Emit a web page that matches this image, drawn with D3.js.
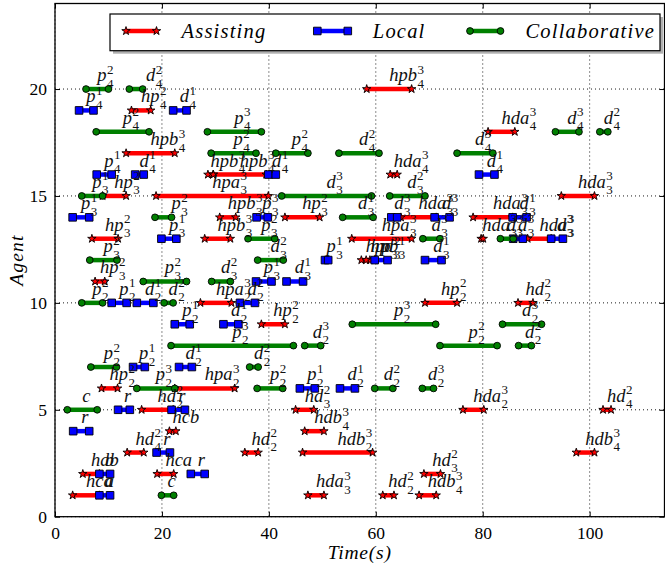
<!DOCTYPE html>
<html><head><meta charset="utf-8">
<script src="https://cdn.jsdelivr.net/npm/d3@7"></script>
<style>
body{margin:0;background:#fff;}
svg{display:block;font-family:"Liberation Serif","Times New Roman",serif;}
</style></head><body>
<svg id="c" width="665" height="570"></svg>
<script>
// ---------- data ----------
const xTicks = [0, 20, 40, 60, 80, 100];
const yTicks = [0, 5, 10, 15, 20];
const xDomain = [0, 114];
const yDomain = [0, 24];
const seriesNames = ["Assisting", "Local", "Collaborative"];
const xTitle = "Time(s)";
const yTitle = "Agent";

// [agent, start(s), end(s), label, optional label x]
const assisting = [
  [20, 58.3, 66.7, "hpb_4^3"],
  [19, 14.3, 17.9, "hp_4^2"],
  [18, 81.0, 86.0, "hda_4^3"],
  [17, 13.3, 22.4, "hpb_4^3"],
  [16, 28.6, 29.6, "hpb_4^3"], [16, 29.6, 39.5, "hpb_4^3"], [16, 62.7, 64.0, "hda_4^3"],
  [15, 8.9, 13.3, "hp_3^2"], [15, 18.9, 39.9, "hpa_3^3"], [15, 94.7, 100.9, "hda_3^3"],
  [14, 30.8, 33.8, "hpb_3^3"], [14, 43.0, 49.5, "hp_3^2"], [14, 64.7, 71.3, "hda_3^3"], [14, 78.2, 85.6, "hda_3^3"],
  [13, 6.9, 11.8, "hp_3^2"], [13, 28.0, 32.8, "hpb_3^3"], [13, 55.5, 66.7, "hpa_3^3"], [13, 79.7, 80.1, "hda_3^3"], [13, 88.4, 92.8, "hda_3^3"],
  [12, 57.3, 58.9, "hpa_3^2"], [12, 58.2, 59.8, "hpb_3^1"],
  [11, 7.5, 9.3, "hp_3^2"],
  [10, 27.2, 33.0, "hpa_2^3"], [10, 69.2, 75.2, "hp_2^2"], [10, 86.6, 89.4, "hd_2^2"],
  [9, 38.6, 43.0, "hp_2^2"],
  [6, 8.7, 11.7, "hp_2^2"], [6, 22.4, 33.6, "hpa_2^3"],
  [5, 16.2, 22.1, "hd_2^2"], [5, 45.0, 48.4, "hd_3^2"], [5, 76.3, 80.2, "hda_2^3"], [5, 102.5, 104.0, "hd_4^2"],
  [4, 21.4, 22.6, "hcb"], [4, 46.7, 50.3, "hdb_4^3"],
  [3, 13.5, 16.6, "hd_4^2"], [3, 35.5, 38.0, "hd_2^2"], [3, 46.3, 59.4, "hdb_2^3"], [3, 97.5, 100.9, "hdb_4^3"],
  [2, 5.2, 8.3, "hab"], [2, 19.1, 22.2, "hca"], [2, 69.0, 72.1, "hd_3^2"],
  [1, 3.3, 8.3, "hca"], [1, 47.3, 50.3, "hda_3^3"], [1, 61.3, 63.4, "hd_2^2"], [1, 68.1, 71.3, "hdb_4^3"]
];
const local = [
  [19, 4.5, 7.2, "p_4^1"], [19, 22.1, 24.6, "d_4^1"],
  [16, 7.8, 10.6, "p_4^1"], [16, 15.0, 16.6, "d_4^1"], [16, 39.9, 41.3, "d_4^1"], [16, 79.3, 82.2, "d_4^1"],
  [14, 3.3, 6.4, "p_3^1"], [14, 37.7, 39.8, "p_3^3"], [14, 62.9, 64.0, "d_3^3"], [14, 71.0, 73.8, "d_3^3"], [14, 85.6, 88.2, "d_3^1"],
  [13, 19.9, 22.7, "p_3^1"], [13, 85.7, 87.5, "d_3^3"], [13, 92.8, 95.0, "d_3^3"],
  [12, 50.5, 51.1, "p_3^1"], [12, 59.8, 62.2, "p_3^3"], [12, 69.2, 72.3, "d_3^1"],
  [11, 37.6, 40.5, "p_3^1"], [11, 43.3, 46.4, "d_3^1"],
  [10, 10.6, 13.4, "p_2^1"], [10, 15.3, 18.4, "d_2^1"], [10, 34.6, 37.4, "d_2^2"],
  [9, 22.4, 25.2, "p_2^1"], [9, 31.5, 34.3, "d_2^1"],
  [7, 14.6, 16.8, "p_2^1"], [7, 23.2, 25.6, "d_2^1"],
  [6, 45.8, 48.6, "p_2^1"], [6, 53.3, 56.1, "d_2^1"],
  [5, 11.8, 14.0, "r"], [5, 21.8, 24.3, "r"],
  [4, 3.4, 6.4, "r"],
  [3, 19.0, 21.5, "r"],
  [2, 8.3, 10.3, "b"], [2, 25.4, 28.0, "r"],
  [1, 8.3, 10.3, "a"]
];
const collaborative = [
  [20, 5.8, 10.0, "p_4^2"], [20, 13.9, 16.4, "d_4^2", 17.0],
  [18, 7.7, 17.6, "p_4^2"], [18, 28.5, 38.6, "p_4^3"], [18, 93.6, 98.0, "d_4^3"], [18, 101.9, 103.4, "d_4^2"],
  [17, 29.2, 37.6, "p_4^2"], [17, 41.3, 47.3, "p_4^2"], [17, 53.1, 60.6, "d_4^2"], [17, 75.2, 81.9, "d_4^3"],
  [15, 5.0, 8.9, "p_3^1"], [15, 42.4, 59.2, "d_3^3"], [15, 62.6, 69.2, "d_3^2"],
  [14, 18.7, 21.8, "p_3^2", 21.8], [14, 53.8, 59.5, "d_3^1"],
  [13, 36.1, 41.1, "p_3^2"], [13, 68.8, 72.0, "d_3^3"], [13, 83.3, 85.7, "d_3^3"],
  [12, 6.5, 11.6, "p_3^2"], [12, 37.9, 42.7, "d_3^2"],
  [11, 16.5, 24.6, "p_3^2"], [11, 29.3, 32.8, "d_3^2"],
  [10, 5.0, 8.9, "p_2^2"], [10, 20.4, 22.1, "d_2^2"],
  [9, 55.6, 71.2, "p_2^3"], [9, 83.7, 91.0, "d_2^3"],
  [8, 21.7, 44.6, "p_2^3"], [8, 46.7, 49.7, "d_2^3"], [8, 72.0, 82.7, "p_2^2"], [8, 86.7, 89.1, "d_2^2"],
  [7, 6.7, 11.5, "p_2^2"], [7, 36.4, 38.0, "d_2^2"],
  [6, 15.3, 22.4, "p_2^3"], [6, 37.8, 42.6, "p_2^2"], [6, 59.8, 63.2, "d_2^2"], [6, 68.7, 70.8, "d_2^3"],
  [5, 2.3, 7.9, "c"],
  [1, 19.9, 22.2, "c"]
];

// ---------- drawing ----------
const svg = d3.select("#c");
const M = {l: 55, t: 3.5, r: 664.5, b: 516.7};
const x = d3.scaleLinear().domain(xDomain).range([M.l, M.r]);
const y = d3.scaleLinear().domain(yDomain).range([M.b, M.t]);

const styles = {
  Assisting: {color: "#ff0000", sym: d3.symbolStar, size: 22},
  Local: {color: "#0000ff", sym: d3.symbolSquare, size: 58},
  Collaborative: {color: "#008000", sym: d3.symbolCircle, size: 36}
};
const seriesData = {Assisting: assisting, Local: local, Collaborative: collaborative};

// grid
const grid = svg.append("g");
xTicks.forEach(t => grid.append("line").attr("x1", x(t)).attr("x2", x(t)).attr("y1", M.t).attr("y2", M.b)
  .attr("stroke", "#000").attr("stroke-width", 0.9).attr("stroke-dasharray", "1,3"));
yTicks.forEach(t => grid.append("line").attr("y1", y(t)).attr("y2", y(t)).attr("x1", M.l).attr("x2", M.r)
  .attr("stroke", "#000").attr("stroke-width", 0.9).attr("stroke-dasharray", "1,3"));

// axes
const xAxisB = d3.axisBottom(x).tickValues(xTicks).tickSizeInner(-5).tickSizeOuter(0).tickPadding(10);
const xAxisT = d3.axisTop(x).tickValues(xTicks).tickSizeInner(-5).tickSizeOuter(0).tickFormat("");
const yAxisL = d3.axisLeft(y).tickValues(yTicks).tickSizeInner(-5).tickSizeOuter(0).tickPadding(8);
const yAxisR = d3.axisRight(y).tickValues(yTicks).tickSizeInner(-5).tickSizeOuter(0).tickFormat("");
function styleAxis(g) {
  g.select(".domain").remove();
  g.selectAll("line").attr("stroke", "#000").attr("stroke-width", 1);
  g.selectAll("text").attr("font-family", "Liberation Serif, serif").attr("font-size", 17.5).attr("fill", "#000");
}
svg.append("g").attr("transform", `translate(0,${M.b})`).call(xAxisB).call(styleAxis);
svg.append("g").attr("transform", `translate(0,${M.t})`).call(xAxisT).call(styleAxis);
svg.append("g").attr("transform", `translate(${M.l},0)`).call(yAxisL).call(styleAxis);
svg.append("g").attr("transform", `translate(${M.r},0)`).call(yAxisR).call(styleAxis);

// segments
const marks = svg.append("g");
seriesNames.forEach(name => {
  const st = styles[name];
  const g = marks.append("g");
  g.selectAll("line").data(seriesData[name]).join("line")
    .attr("x1", d => x(d[1])).attr("x2", d => x(d[2]))
    .attr("y1", d => y(d[0])).attr("y2", d => y(d[0]))
    .attr("stroke", st.color).attr("stroke-width", 4.5);
  const pts = seriesData[name].flatMap(d => [[d[1], d[0]], [d[2], d[0]]]);
  g.selectAll("path").data(pts).join("path")
    .attr("d", d3.symbol().type(st.sym).size(st.size))
    .attr("transform", p => `translate(${x(p[0])},${y(p[1])})`)
    .attr("fill", st.color).attr("stroke", "#000").attr("stroke-width", 0.9);
});

// labels
const labs = svg.append("g");
function drawLabel(px, py, label) {
  const m = label.match(/^([^_^]+)(?:_(\w))?(?:\^(\w))?$/);
  const base = labs.append("text").attr("x", px).attr("y", py)
    .attr("font-style", "italic").attr("font-size", 18.5).attr("fill", "#111").text(m[1]);
  const w = base.node().getComputedTextLength();
  if (m[2]) labs.append("text").attr("x", px + w + 0.5).attr("y", py + 6.5)
    .attr("font-size", 13).attr("fill", "#111").text(m[2]);
  if (m[3]) labs.append("text").attr("x", px + w + 0.5).attr("y", py - 7.5)
    .attr("font-size", 13).attr("fill", "#111").text(m[3]);
}
seriesNames.forEach(name => {
  seriesData[name].forEach(d => {
    const lx = d.length > 4 ? d[4] : (d[1] + d[2]) / 2;
    drawLabel(x(lx), y(d[0]) - 8, d[3]);
  });
});

// frame
svg.append("rect").attr("x", M.l).attr("y", M.t).attr("width", M.r - M.l).attr("height", M.b - M.t)
  .attr("fill", "none").attr("stroke", "#000").attr("stroke-width", 1.3);

// axis titles
svg.append("text").attr("x", (M.l + M.r) / 2).attr("y", 559).attr("text-anchor", "middle")
  .attr("font-style", "italic").attr("font-size", 19.5).attr("letter-spacing", 0.8).text(xTitle);
svg.append("text").attr("transform", `translate(23,${(M.t + M.b) / 2}) rotate(-90)`).attr("text-anchor", "middle")
  .attr("font-style", "italic").attr("font-size", 19.5).attr("letter-spacing", 1.2).text(yTitle);

// legend
const leg = svg.append("g");
leg.append("rect").attr("x", 113).attr("y", 17).attr("width", 550).attr("height", 36.7).attr("fill", "#b0b0b0");
leg.append("rect").attr("x", 110).attr("y", 14).attr("width", 550).attr("height", 36.7)
  .attr("fill", "#fff").attr("stroke", "#000").attr("stroke-width", 1.2);
const legX = [126, 317.3, 470];
seriesNames.forEach((name, i) => {
  const st = styles[name];
  const x0 = legX[i], x1 = legX[i] + 30.5, ly = 31;
  leg.append("line").attr("x1", x0).attr("x2", x1).attr("y1", ly).attr("y2", ly)
    .attr("stroke", st.color).attr("stroke-width", 4.5);
  [x0, x1].forEach(px => leg.append("path").attr("d", d3.symbol().type(st.sym).size(st.size)())
    .attr("transform", `translate(${px},${ly})`).attr("fill", st.color).attr("stroke", "#000").attr("stroke-width", 0.9));
  leg.append("text").attr("x", x1 + 25).attr("y", 38).attr("font-style", "italic")
    .attr("font-size", 20.5).attr("letter-spacing", 1.2).text(name);
});
</script>
</body></html>
